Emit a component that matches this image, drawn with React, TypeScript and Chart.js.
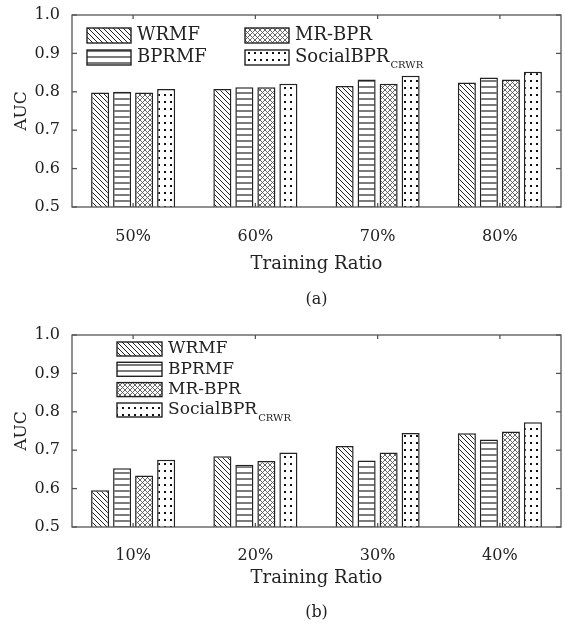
import React, { useEffect, useRef } from 'react';
import { Chart, registerables } from 'chart.js';

Chart.register(...registerables);

// ---------- data ----------
const seriesNames = ['WRMF', 'BPRMF', 'MR-BPR', 'SocialBPR'];
const seriesSubscripts = ['', '', '', 'CRWR'];
const yTickValues = [0.5, 0.6, 0.7, 0.8, 0.9, 1.0];

const categoriesA = ['50%', '60%', '70%', '80%'];
const wrmfA = [0.798, 0.807, 0.815, 0.824];
const bprmfA = [0.8, 0.812, 0.832, 0.837];
const mrbprA = [0.798, 0.812, 0.821, 0.832];
const socialA = [0.807, 0.821, 0.842, 0.852];

const categoriesB = ['10%', '20%', '30%', '40%'];
const wrmfB = [0.596, 0.684, 0.711, 0.744];
const bprmfB = [0.653, 0.662, 0.673, 0.728];
const mrbprB = [0.634, 0.672, 0.694, 0.749];
const socialB = [0.675, 0.694, 0.745, 0.773];

const xTitle = 'Training Ratio';
const yTitle = 'AUC';

// ---------- styles ----------
const FONT = "'DejaVu Serif', 'Liberation Serif', serif";
const INK = '#222';
const FRAME = '#555';

function makePattern(kind: string): CanvasPattern | string {
  const c = document.createElement('canvas');
  let w = 5, h = 5;
  if (kind === 'horiz') { w = 6; h = 6; }
  if (kind === 'cross') { w = 5; h = 5; }
  if (kind === 'dots') { w = 6; h = 7; }
  c.width = w; c.height = h;
  const ctx = c.getContext('2d');
  if (!ctx) return '#fff';
  ctx.fillStyle = '#fff';
  ctx.fillRect(0, 0, w, h);
  const seg = (x1: number, y1: number, x2: number, y2: number) => {
    ctx.beginPath(); ctx.moveTo(x1, y1); ctx.lineTo(x2, y2); ctx.stroke();
  };
  if (kind === 'diag') {
    ctx.strokeStyle = '#222'; ctx.lineWidth = 1;
    seg(0, 0, w, h); seg(-1, h - 1, 1, h + 1); seg(w - 1, -1, w + 1, 1);
  } else if (kind === 'horiz') {
    ctx.strokeStyle = '#222'; ctx.lineWidth = 1.2;
    seg(0, 3, w, 3);
  } else if (kind === 'cross') {
    ctx.strokeStyle = '#555'; ctx.lineWidth = 0.9;
    seg(0, 0, w, h); seg(-1, h - 1, 1, h + 1); seg(w - 1, -1, w + 1, 1);
    seg(0, h, w, 0); seg(-1, 1, 1, -1); seg(w - 1, h + 1, w + 1, h - 1);
  } else if (kind === 'dots') {
    ctx.fillStyle = '#111';
    ctx.fillRect(2, 3, 2, 2);
  }
  return ctx.createPattern(c, 'repeat') || '#fff';
}

type LegendItemPos = { dx: number; dy: number };
type LegendOpts = { items: LegendItemPos[]; boxW: number; boxH: number; fontSize: number; gap: number; subSize: number; subDy: number };

const framePlugin = {
  id: 'frameAndLegend',
  afterDatasetsDraw(chart: any, _args: any, opts: any) {
    const { ctx, chartArea: a, scales } = chart;
    ctx.save();
    ctx.strokeStyle = FRAME;
    ctx.lineWidth = 1.3;
    ctx.strokeRect(a.left, a.top, a.right - a.left, a.bottom - a.top);
    const line = (x1: number, y1: number, x2: number, y2: number) => {
      ctx.beginPath(); ctx.moveTo(x1, y1); ctx.lineTo(x2, y2); ctx.stroke();
    };
    const ys = scales.y;
    ys.ticks.forEach((_t: any, i: number) => {
      const py = ys.getPixelForTick(i);
      line(a.left, py, a.left + 5, py);
      line(a.right - 5, py, a.right, py);
    });
    const xs = scales.x;
    xs.ticks.forEach((_t: any, i: number) => {
      const px = xs.getPixelForTick(i);
      line(px, a.bottom, px, a.bottom - 4);
      line(px, a.top, px, a.top + 4);
    });

    // legend
    const lg: LegendOpts = opts.legend;
    if (lg) {
      chart.data.datasets.forEach((ds: any, i: number) => {
        const p = lg.items[i];
        const bx = a.left + p.dx;
        const by = a.top + p.dy;
        ctx.fillStyle = ds.backgroundColor;
        ctx.fillRect(bx, by, lg.boxW, lg.boxH);
        ctx.strokeStyle = INK;
        ctx.lineWidth = 1.4;
        ctx.strokeRect(bx, by, lg.boxW, lg.boxH);
        const cy = by + lg.boxH / 2;
        ctx.fillStyle = INK;
        ctx.textBaseline = 'middle';
        ctx.textAlign = 'left';
        ctx.font = `${lg.fontSize}px ${FONT}`;
        const tx = bx + lg.boxW + lg.gap;
        ctx.fillText(ds.label, tx, cy);
        const sub = seriesSubscripts[i];
        if (sub) {
          const w = ctx.measureText(ds.label).width;
          ctx.font = `${lg.subSize}px ${FONT}`;
          ctx.fillText(sub, tx + w + 1, cy + lg.subDy);
        }
      });
    }
    ctx.restore();
  },
};

type PanelProps = {
  categories: string[];
  values: number[][];
  caption: string;
  top: number;
  height: number;
  xAxisHeight: number;
  xTickPad: number;
  xTitlePad: number;
  captionPad: number;
  legend: LegendOpts;
};

function BarPanel(props: PanelProps) {
  const ref = useRef<HTMLCanvasElement | null>(null);
  useEffect(() => {
    if (!ref.current) return;
    const kinds = ['diag', 'horiz', 'cross', 'dots'];
    const datasets = props.values.map((v, i) => ({
      label: seriesNames[i],
      data: v,
      backgroundColor: makePattern(kinds[i]),
      borderColor: INK,
      borderWidth: 1.5,
      borderSkipped: false,
      categoryPercentage: 0.72,
      barPercentage: 0.82,
    }));
    const chart = new Chart(ref.current, {
      type: 'bar',
      data: { labels: props.categories, datasets: datasets as any },
      plugins: [framePlugin as any],
      options: {
        responsive: false,
        animation: false,
        devicePixelRatio: 1,
        layout: { padding: { top: 15, left: 0, right: 4, bottom: 0 } },
        scales: {
          x: {
            type: 'category',
            offset: true,
            grid: { display: false },
            border: { display: false },
            ticks: { font: { family: FONT, size: 16 }, color: INK, padding: props.xTickPad },
            title: {
              display: true,
              text: xTitle,
              font: { family: FONT, size: 18 },
              color: INK,
              padding: { top: 0, bottom: props.xTitlePad },
            },
            afterFit: (s: any) => { s.height = props.xAxisHeight; },
          },
          y: {
            min: 0.5,
            max: 1.0,
            grid: { display: false },
            border: { display: false },
            afterBuildTicks: (s: any) => { s.ticks = yTickValues.map((v) => ({ value: v })); },
            ticks: {
              font: { family: FONT, size: 16 },
              color: INK,
              padding: 4,
              callback: (v: any) => Number(v).toFixed(1),
            },
            title: {
              display: true,
              text: yTitle,
              font: { family: FONT, size: 17 },
              color: INK,
              padding: { top: 11, bottom: 0 },
            },
            afterFit: (s: any) => { s.width = 72; },
          },
        },
        plugins: {
          legend: { display: false },
          tooltip: { enabled: false },
          title: {
            display: true,
            position: 'bottom',
            fullSize: false,
            text: props.caption,
            font: { family: FONT, size: 16, weight: 'normal' },
            color: INK,
            padding: { top: 0, bottom: props.captionPad },
          },
          frameAndLegend: { legend: props.legend },
        } as any,
      },
    });
    return () => chart.destroy();
  }, []);
  return (
    <canvas
      ref={ref}
      width={565}
      height={props.height}
      style={{ position: 'absolute', left: 0, top: props.top, width: 565, height: props.height, display: 'block' }}
    />
  );
}

const legendA: LegendOpts = {
  items: [
    { dx: 15, dy: 13 },
    { dx: 15, dy: 35 },
    { dx: 173, dy: 13 },
    { dx: 173, dy: 35 },
  ],
  boxW: 44,
  boxH: 15,
  fontSize: 18,
  gap: 6,
  subSize: 10,
  subDy: 8,
};

const legendB: LegendOpts = {
  items: [
    { dx: 45, dy: 7 },
    { dx: 45, dy: 27.3 },
    { dx: 45, dy: 47.6 },
    { dx: 45, dy: 68 },
  ],
  boxW: 45,
  boxH: 14,
  fontSize: 17,
  gap: 6,
  subSize: 10,
  subDy: 8,
};

export default function App() {
  return (
    <div style={{ position: 'absolute', left: 0, top: 0, width: 565, height: 626, background: '#fff' }}>
      <BarPanel
        categories={categoriesA}
        values={[wrmfA, bprmfA, mrbprA, socialA]}
        caption="(a)"
        top={0}
        height={320}
        xAxisHeight={83.4}
        xTickPad={12.4}
        xTitlePad={15.2}
        captionPad={10.4}
        legend={legendA}
      />
      <BarPanel
        categories={categoriesB}
        values={[wrmfB, bprmfB, mrbprB, socialB]}
        caption="(b)"
        top={320}
        height={306}
        xAxisHeight={76.4}
        xTickPad={11.4}
        xTitlePad={14.2}
        captionPad={3.4}
        legend={legendB}
      />
    </div>
  );
}
